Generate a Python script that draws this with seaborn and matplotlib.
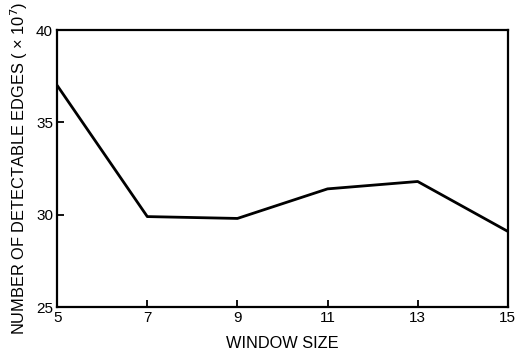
import matplotlib
matplotlib.use('Agg')
import matplotlib.pyplot as plt
import seaborn as sns
import pandas as pd

# values
window_size = [5, 7, 9, 11, 13, 15]
edges = [37.0, 29.9, 29.8, 31.4, 31.8, 29.1]
x_ticks = [5, 7, 9, 11, 13, 15]
y_ticks = [25, 30, 35, 40]

df = pd.DataFrame({'window': window_size, 'edges': edges})

sns.set_style('white')
plt.rcParams['font.family'] = ['Liberation Sans', 'DejaVu Sans']
plt.rcParams['text.color'] = 'black'
plt.rcParams['axes.labelcolor'] = 'black'

fig = plt.figure(figsize=(5.15, 3.53), dpi=100)
ax = fig.add_axes([0.111, 0.130, 0.875, 0.785])

sns.lineplot(data=df, x='window', y='edges', color='black', linewidth=2, ax=ax)

ax.set_xlim(5, 15)
ax.set_ylim(25, 40)
ax.set_xticks(x_ticks)
ax.set_yticks(y_ticks)
ax.tick_params(direction='in', length=5, width=1.3, colors='black', labelsize=11,
               top=False, right=False, bottom=True, left=True, pad=3)
for s in ax.spines.values():
    s.set_color('black')
    s.set_linewidth(1.6)

ax.set_xlabel('WINDOW SIZE', fontsize=11.8, labelpad=8)
ax.set_ylabel('NUMBER OF DETECTABLE EDGES ( × 10$^7$)', fontsize=11.8, labelpad=4)

fig.savefig('out.png', dpi=100)
